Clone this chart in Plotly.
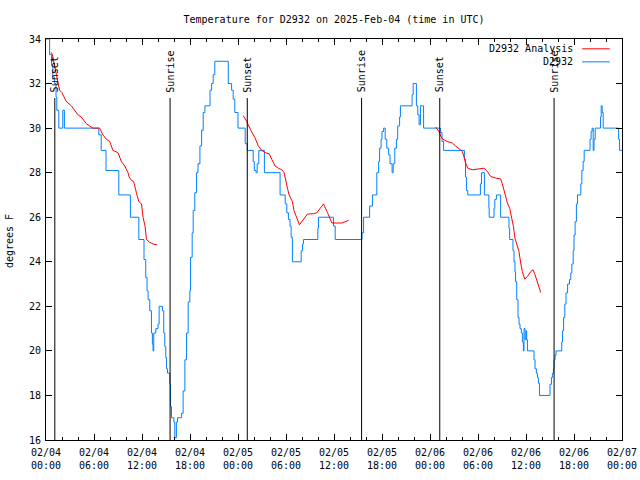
import plotly.graph_objects as go
import pandas as pd

# ---------------- data ----------------
BASE = "2025-02-04 00:00"
TITLE = "Temperature for D2932 on 2025-Feb-04 (time in UTC)"
Y_LABEL = "degrees F"
SERIES_NAMES = ["D2932 Analysis", "D2932"]

# observed temperature (hours since BASE, deg F)
obs_hours = [0.0, 0.45, 0.7, 0.85, 1.05, 1.25, 1.35, 1.6, 2.1, 2.3, 6.6, 6.9, 7.5, 9.1, 10.55, 11.6,
             12.25, 12.47, 12.63, 12.76, 12.97, 13.18, 13.3, 13.38, 13.47, 13.72, 14.0, 14.14, 14.56,
             14.72, 14.85, 14.97, 15.06, 15.19, 15.48, 15.56, 15.69, 15.98, 16.1, 16.3, 16.44, 16.94,
             17.14, 17.36, 17.57, 17.77, 17.98, 18.07, 18.27, 18.4, 18.6, 18.82, 19.0, 19.24, 19.45,
             19.65, 19.86, 20.5, 20.7, 20.9, 21.1, 22.78, 23.2, 23.4, 23.6, 24.0, 24.9, 25.16, 25.9,
             26.04, 26.25, 26.4, 26.6, 27.3, 29.26, 29.9, 30.1, 30.3, 30.5, 30.64, 30.8, 31.9, 32.06,
             32.18, 33.98, 34.06, 35.94, 36.15, 39.5, 39.7, 40.45, 40.8, 41.35, 41.58, 41.7, 41.88,
             42.0, 42.2, 42.4, 42.6, 42.83, 43.0, 43.26, 43.4, 43.6, 43.8, 43.96, 44.2, 44.3, 45.76,
             45.9, 46.3, 46.47, 46.64, 46.8, 47.2, 49.3, 49.5, 49.7, 52.3, 52.44, 52.57, 52.73, 54.3,
             54.44, 54.8, 55.36, 55.4, 56.0, 56.1, 56.3, 56.83, 57.87, 57.96, 58.37, 58.5, 58.62,
             58.7, 58.84, 59.0, 59.13, 59.25, 59.42, 59.55, 59.67, 59.75, 59.88, 60.0, 60.09, 60.18,
             61.0, 61.13, 61.3, 61.43, 61.55, 61.68, 63.0, 63.18, 63.3, 63.43, 63.5, 63.63, 63.76,
             64.47, 64.56, 64.7, 64.85, 65.0, 65.2, 65.44, 65.6, 65.73, 65.9, 66.0, 66.14, 66.3,
             66.44, 66.85, 66.98, 67.14, 67.27, 68.0, 68.14, 68.27, 68.4, 68.5, 68.65, 69.32, 69.4,
             69.52, 69.65, 71.58, 71.7, 72.0]
obs_temp = [34.0, 33.3, 32.8, 32.3, 32.0, 31.4, 30.8, 30.0, 30.8, 30.0, 29.7, 29.0, 28.1, 27.0, 26.0, 25.0,
            24.1, 23.3, 22.7, 22.3, 21.8, 20.8, 20.3, 20.0, 20.8, 21.0, 21.2, 22.0, 21.8,
            20.8, 20.2, 19.7, 19.2, 19.0, 18.5, 17.5, 17.0, 16.8, 16.1, 16.8, 17.0, 17.2,
            18.2, 19.6, 20.8, 22.2, 22.7, 24.2, 25.3, 26.3, 27.1, 28.0, 28.4, 29.2, 29.9,
            30.7, 31.0, 31.7, 32.0, 32.4, 33.0, 32.0, 31.7, 31.3, 30.7, 30.0, 29.3, 29.0, 28.5,
            28.1, 28.0, 28.4, 29.0, 28.0, 27.0, 26.6, 26.2, 25.9, 25.6, 25.1, 24.0, 24.5, 24.8,
            25.0, 25.5, 26.0, 25.6, 25.0, 25.3, 26.0, 26.5, 27.0, 28.0, 28.5, 29.1, 29.5,
            29.85, 30.0, 29.5, 29.1, 28.8, 28.4, 28.0, 28.4, 29.1, 29.5, 30.1, 30.5, 31.0, 31.5,
            32.0, 31.0, 30.6, 30.15, 31.0, 30.0, 29.8, 29.4, 29.0, 28.6, 27.8, 27.2, 27.0, 27.5,
            28.0, 27.0, 26.4, 26.0, 26.4, 26.8, 27.0, 26.0, 25.5, 25.0, 24.5, 24.0, 23.55,
            23.1, 22.3, 21.5, 21.2, 21.0, 20.8, 20.4, 20.0, 21.0, 20.5, 20.9, 20.5, 20.0,
            19.6, 19.2, 19.0, 18.8, 18.55, 18.0, 18.5, 18.8, 19.0, 19.2, 19.6, 19.8, 20.0,
            20.4, 20.9, 21.5, 22.1, 22.6, 23.0, 23.2, 23.5, 23.9, 24.5, 25.2, 25.8, 26.6,
            27.0, 27.5, 28.1, 28.5, 29.0, 29.5, 29.85, 30.0, 29.0, 29.5, 30.0, 30.5, 31.0,
            30.7, 30.0, 29.5, 29.0, 29.0]

# analysis, three nightly segments
ana1_hours = [0.65, 0.8, 1.07, 1.48, 1.7, 1.98, 2.53, 3.16, 3.57, 3.98, 4.41, 5.04, 5.45, 5.86, 6.7,
              7.1, 7.54, 7.96, 8.37, 9.0, 9.42, 9.84, 10.25, 10.4, 10.68, 10.96, 11.3, 11.6, 11.93,
              12.13, 12.38, 12.56, 12.97, 13.38, 13.88]
ana1_temp = [33.4, 33.3, 32.8, 32.0, 31.7, 31.6, 31.2, 31.0, 30.8, 30.6, 30.5, 30.2, 30.1, 30.0, 30.0,
             29.7, 29.5, 29.4, 29.0, 28.9, 28.5, 28.3, 28.0, 27.8, 27.65, 27.6, 27.1, 26.7, 26.6,
             26.0, 25.6, 25.0, 24.87, 24.8, 24.76]
ana2_hours = [24.66, 25.09, 25.6, 26.13, 26.54, 26.97, 27.38, 27.92, 28.22, 28.63, 29.05, 29.47, 29.76,
              29.97, 30.18, 30.39, 30.6, 30.8, 31.0, 31.23, 31.43, 31.68, 31.85, 32.27, 32.68, 33.43,
              33.86, 34.27, 34.69, 35.19, 35.44, 35.74, 36.99, 37.4, 37.82]
ana2_temp = [30.56, 30.3, 29.9, 29.56, 29.2, 29.0, 28.9, 28.84, 28.6, 28.3, 28.2, 28.13, 28.0,
             27.6, 27.3, 27.0, 26.8, 26.7, 26.3, 26.1, 25.9, 25.66, 25.74, 25.96, 26.14, 26.16,
             26.2, 26.4, 26.6, 26.2, 25.96, 25.74, 25.74, 25.8, 25.86]
ana3_hours = [48.7, 49.1, 49.4, 49.6, 50.15, 50.78, 51.19, 51.6, 52.03, 52.23, 52.44, 52.73, 53.28,
              54.11, 54.74, 55.16, 55.58, 56.2, 56.83, 57.04, 57.33, 57.67, 57.96, 58.17, 58.42,
              58.62, 58.92, 59.12, 59.34, 59.55, 59.84, 60.18, 60.59, 60.88, 61.09, 61.34, 61.55, 61.84]
ana3_temp = [30.05, 29.86, 29.6, 29.5, 29.4, 29.33, 29.2, 29.1, 28.96, 28.73, 28.44, 28.2, 28.13,
             28.17, 28.2, 28.06, 27.83, 27.76, 27.72, 27.5, 27.08, 26.64, 26.4, 26.04, 25.6,
             25.06, 24.76, 24.46, 23.94, 23.56, 23.22, 23.34, 23.56, 23.64, 23.46, 23.16, 22.9, 22.62]

# sun events
sun_hours = [1.1, 15.51, 25.16, 39.45, 49.22, 63.51]
sun_labels = ["Sunset", "Sunrise", "Sunset", "Sunrise", "Sunset", "Sunrise"]
SUN_LINE_TOP = 31.35

Y_RANGE = [16, 34]
X_SPAN_HOURS = 72

# ---------------- helpers ----------------
base = pd.Timestamp(BASE)


def to_time(hours):
    return [base + pd.Timedelta(hours=h) for h in hours]


ana_x, ana_y = [], []
for hs, vs in [(ana1_hours, ana1_temp), (ana2_hours, ana2_temp), (ana3_hours, ana3_temp)]:
    if ana_x:
        ana_x.append(None)
        ana_y.append(None)
    ana_x += to_time(hs)
    ana_y += vs

FONT = dict(family="DejaVu Sans Mono, monospace", size=10, color="black")
RED = "#ff0000"
BLUE = "#0080ff"

fig = go.Figure()
fig.add_trace(go.Scatter(x=to_time(obs_hours), y=obs_temp, mode="lines", name=SERIES_NAMES[1],
                         line=dict(color=BLUE, width=1, shape="hv"), showlegend=False))
fig.add_trace(go.Scatter(x=ana_x, y=ana_y, mode="lines", name=SERIES_NAMES[0],
                         line=dict(color=RED, width=1), connectgaps=False, showlegend=False))

shapes = []
annotations = []
for h, lab in zip(sun_hours, sun_labels):
    tt = base + pd.Timedelta(hours=h)
    shapes.append(dict(type="line", xref="x", yref="y", x0=tt, x1=tt, y0=Y_RANGE[0], y1=SUN_LINE_TOP,
                       line=dict(color="black", width=1)))
    annotations.append(dict(x=tt, y=SUN_LINE_TOP + 0.2, xref="x", yref="y", text=lab, textangle=-90,
                            showarrow=False, xanchor="center", yanchor="bottom", font=FONT,
                            borderpad=0))

# gnuplot-style key (text left of sample line)
for name, color, ypos in [(SERIES_NAMES[0], RED, 0.9755), (SERIES_NAMES[1], BLUE, 0.943)]:
    annotations.append(dict(x=0.9174, y=ypos, xref="paper", yref="paper", text=name, showarrow=False,
                            xanchor="right", yanchor="middle", font=FONT, borderpad=0))
    shapes.append(dict(type="line", xref="paper", yref="paper", x0=0.9308, x1=0.9788, y0=ypos, y1=ypos,
                       line=dict(color=color, width=1)))

annotations.append(dict(x=-0.0636, y=0.497, xref="paper", yref="paper", text=Y_LABEL, textangle=-90,
                        showarrow=False, xanchor="center", yanchor="middle", font=FONT))

fig.update_layout(
    width=640, height=480,
    margin=dict(l=46, r=18, t=39, b=40),
    paper_bgcolor="white", plot_bgcolor="white",
    title=dict(text=TITLE, x=0.5, xref="paper", y=1 - 19 / 480, yref="container",
               xanchor="center", yanchor="middle", font=FONT),
    font=FONT,
    shapes=shapes,
    annotations=annotations,
    xaxis=dict(type="date", range=[base, base + pd.Timedelta(hours=X_SPAN_HOURS)],
               tick0=base, dtick=6 * 3600 * 1000, tickformat="%m/%d<br>%H:%M",
               ticks="inside", ticklen=6, tickcolor="black", mirror="allticks",
               showline=True, linecolor="black", linewidth=1, showgrid=False, zeroline=False,
               minor=dict(dtick=2 * 3600 * 1000, ticks="inside", ticklen=3, tickcolor="black",
                          showgrid=False),
               ticklabelstandoff=3, automargin=False,
               tickfont=FONT),
    yaxis=dict(range=Y_RANGE, dtick=2, ticks="inside", ticklen=6, tickcolor="black",
               mirror="allticks", showline=True, linecolor="black", linewidth=1,
               showgrid=False, zeroline=False, ticklabelstandoff=2, automargin=False,
               tickfont=FONT),
)

fig.write_html("out.html", config={"displayModeBar": False},
               post_script="document.body.style.margin='0px';")
